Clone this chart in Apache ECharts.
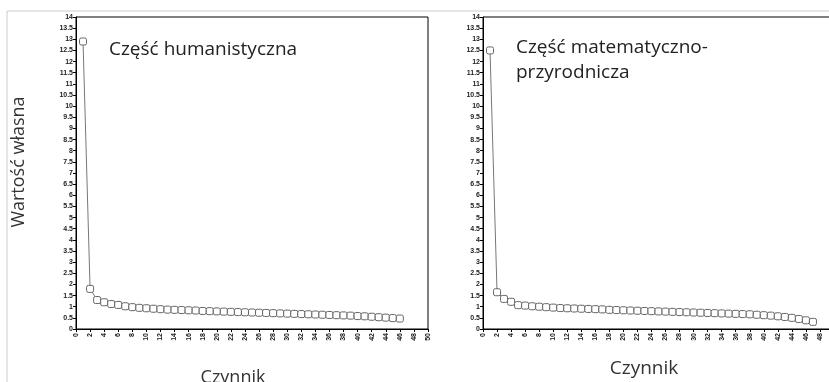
<!DOCTYPE html>
<html>
<head>
<meta charset="utf-8">
<script src="https://cdn.jsdelivr.net/npm/echarts@6/dist/echarts.min.js"></script>
<style>
  html, body { margin: 0; padding: 0; background: #fff; }
  #main { width: 829px; height: 382px; }
</style>
</head>
<body>
<div id="main"></div>
<script>
// wartości własne - część humanistyczna (46 czynników)
var humValues = [12.9, 1.8, 1.3, 1.2, 1.12, 1.08, 1.02, 0.98, 0.95, 0.93, 0.91, 0.89, 0.87, 0.86, 0.85,
  0.84, 0.83, 0.81, 0.8, 0.79, 0.78, 0.77, 0.76, 0.75, 0.74, 0.73, 0.72, 0.71, 0.7, 0.69,
  0.68, 0.67, 0.66, 0.65, 0.64, 0.63, 0.62, 0.61, 0.6, 0.58, 0.57, 0.55, 0.53, 0.51, 0.49, 0.47]
// wartości własne - część matematyczno-przyrodnicza (47 czynników)
var matValues = [12.5, 1.65, 1.35, 1.22, 1.07, 1.05, 1.02, 1.0, 0.98, 0.96, 0.94, 0.93, 0.92, 0.91, 0.9,
  0.89, 0.88, 0.86, 0.85, 0.84, 0.83, 0.82, 0.81, 0.8, 0.79, 0.78, 0.77, 0.76, 0.75, 0.74,
  0.73, 0.72, 0.71, 0.7, 0.69, 0.68, 0.67, 0.66, 0.64, 0.62, 0.6, 0.57, 0.54, 0.5, 0.45, 0.39, 0.32]

var titles = ['Część humanistyczna', 'Część matematyczno-\nprzyrodnicza']
var yName = 'Wartość własna'
var xName = 'Czynnik'

function toPoints(arr) {
  return arr.map(function (v, i) { return [i + 1, v] })
}

var myChart = echarts.init(document.getElementById('main'))

var tickLabel = {
  color: '#222',
  fontSize: 7,
  fontWeight: 'bold',
  fontFamily: 'Liberation Sans',
}

function makeX(idx) {
  return {
    type: 'value',
    gridIndex: idx,
    min: 0,
    max: 50,
    interval: 2,
    axisLine: { show: true, lineStyle: { color: '#000', width: 1 } },
    axisTick: { show: true, length: 3, lineStyle: { color: '#000' } },
    axisLabel: Object.assign({ rotate: 90, margin: 4, showMaxLabel: true }, tickLabel),
    splitLine: { show: false },
  }
}
function makeY(idx) {
  return {
    type: 'value',
    gridIndex: idx,
    min: 0,
    max: 14,
    interval: 0.5,
    axisLine: { show: true, lineStyle: { color: '#000', width: 1 } },
    axisTick: { show: true, length: 3, lineStyle: { color: '#000' } },
    axisLabel: Object.assign({ margin: 3 }, tickLabel),
    splitLine: { show: false },
  }
}
function makeSeries(idx, data) {
  return {
    type: 'line',
    xAxisIndex: idx,
    yAxisIndex: idx,
    data: toPoints(data),
    symbol: 'roundRect',
    symbolSize: 7,
    showAllSymbol: true,
    lineStyle: { color: '#777', width: 1 },
    itemStyle: { color: '#fff', borderColor: '#666', borderWidth: 1 },
    animation: false,
  }
}

var option = {
  animation: false,
  grid: [
    { left: 76, top: 17, width: 352, height: 312, show: true, borderColor: '#000', borderWidth: 1, outerBoundsMode: 'none' },
    { left: 483, top: 17, width: 351, height: 312, show: true, borderColor: '#000', borderWidth: 1, outerBoundsMode: 'none' },
  ],
  xAxis: [makeX(0), makeX(1)],
  yAxis: [makeY(0), makeY(1)],
  series: [makeSeries(0, humValues), makeSeries(1, matValues)],
  graphic: [
    {
      type: 'rect',
      shape: { x: 7, y: 11, width: 900, height: 500 },
      style: { fill: 'none', stroke: '#ccc', lineWidth: 1 },
      z: -1,
    },
    {
      type: 'text', left: 109, top: 40,
      style: { text: titles[0], fontSize: 19, fontFamily: 'Open Sans', fill: '#222' },
    },
    {
      type: 'text', left: 516, top: 35,
      style: { text: titles[1], fontSize: 19, fontFamily: 'Open Sans', fill: '#222', lineHeight: 25 },
    },
    {
      type: 'text', x: 19, y: 162, rotation: Math.PI / 2,
      style: { text: yName, fontSize: 18, fontFamily: 'Open Sans', fill: '#333', align: 'center', verticalAlign: 'middle' },
    },
    {
      type: 'text', x: 233, y: 378,
      style: { text: xName, fontSize: 18, fontFamily: 'Open Sans', fill: '#333', align: 'center', verticalAlign: 'middle' },
    },
    {
      type: 'text', x: 644, y: 369,
      style: { text: xName, fontSize: 19, fontFamily: 'Open Sans', fill: '#333', align: 'center', verticalAlign: 'middle' },
    },
  ],
}

myChart.setOption(option)
window.addEventListener('resize', function () {
  myChart.resize()
})
</script>
</body>
</html>
